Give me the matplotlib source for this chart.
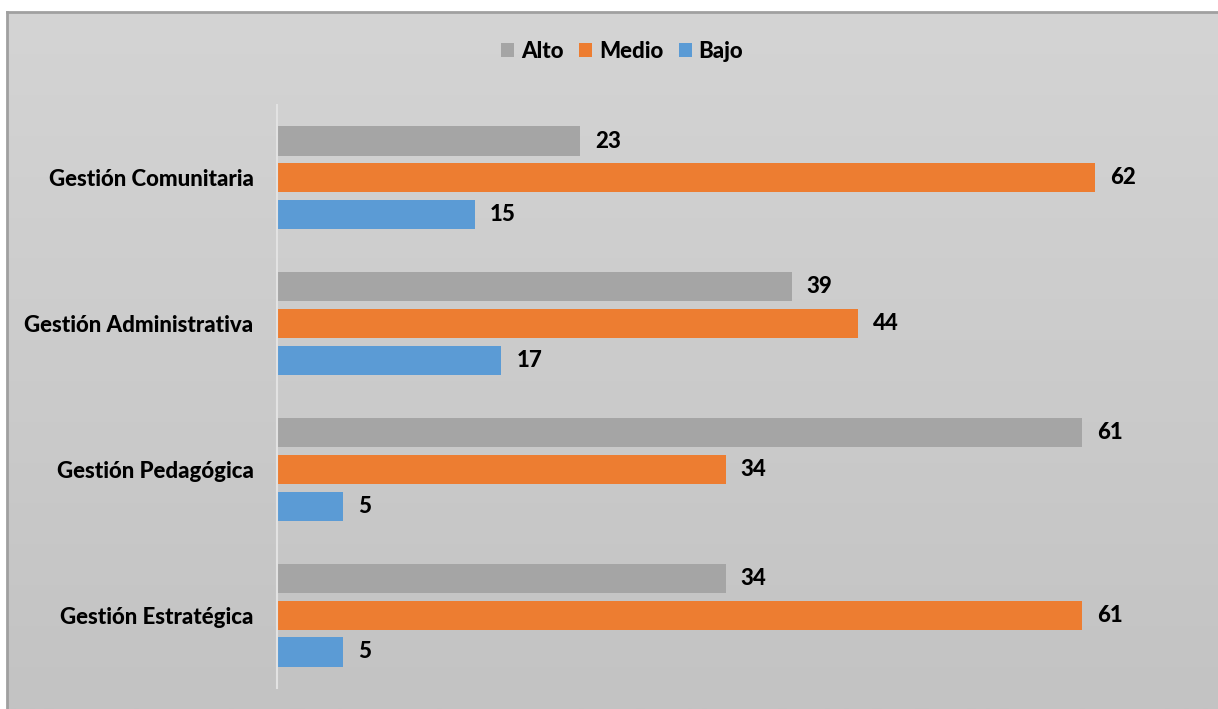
"""Bar chart: niveles por área de gestión (Alto / Medio / Bajo)."""

import matplotlib
matplotlib.use("Agg")
import matplotlib.pyplot as plt
import numpy as np
from matplotlib.patches import Patch

categories = ["Gestión Comunitaria", "Gestión Administrativa",
              "Gestión Pedagógica", "Gestión Estratégica"]
series_names = ["Alto", "Medio", "Bajo"]
alto = [23, 39, 61, 34]
medio = [62, 44, 34, 61]
bajo = [15, 17, 5, 5]
colors = ["#a5a5a5", "#ed7d31", "#5b9bd5"]

W, H = 1218, 709
FS = 16
WEIGHT = 900
plt.rcParams["font.family"] = ["Lato", "DejaVu Sans"]

fig = plt.figure(figsize=(W / 100, H / 100), dpi=100)
fig.patch.set_facecolor("white")

# gradient background with a thin frame on top/left
bg = fig.add_axes([7 / W, 0, 1 - 7 / W, 1 - 12 / H], zorder=-10)
grad = np.linspace(0, 1, 256).reshape(-1, 1)
bg.imshow(grad, aspect="auto", cmap=matplotlib.colors.LinearSegmentedColormap.from_list(
    "bg", ["#d4d4d4", "#c3c3c3"]), extent=[0, 1, 0, 1], origin="upper")
bg.set_xlim(0, 1)
bg.set_ylim(0, 1)
bg.set_xticks([])
bg.set_yticks([])
for side in ["right", "bottom"]:
    bg.spines[side].set_visible(False)
for side in ["top", "left"]:
    bg.spines[side].set_color("#a0a0a0")
    bg.spines[side].set_linewidth(2)

px_per_unit = 818 / 62
ax_left, ax_right = 277, 1195
ax_top, ax_bottom = 105, 688
ax = fig.add_axes([ax_left / W, 1 - ax_bottom / H,
                   (ax_right - ax_left) / W, (ax_bottom - ax_top) / H])
ax.set_facecolor("none")
ax.set_xlim(0, (ax_right - ax_left) / px_per_unit)
ax.set_ylim(3.5, -0.5)

y = np.arange(len(categories))
bar_h = 0.2
step = 0.253
for k, (vals, color) in enumerate(zip([alto, medio, bajo], colors)):
    pos = y + (k - 1) * step
    ax.barh(pos, vals, height=bar_h, color=color)
    for p, v in zip(pos, vals):
        ax.annotate(str(v), (v, p), xytext=(15, 0), textcoords="offset pixels",
                    ha="left", va="center", fontsize=FS, fontweight=WEIGHT,
                    color="black")

ax.set_yticks(y, categories, fontsize=FS, fontweight=WEIGHT)
ax.tick_params(axis="y", length=0, pad=17)
ax.set_xticks([])
for side in ["top", "right", "bottom"]:
    ax.spines[side].set_visible(False)
ax.spines["left"].set_color("#e2e2e2")
ax.spines["left"].set_linewidth(1.5)

handles = [Patch(facecolor=c, label=n) for c, n in zip(colors, series_names)]
fig.legend(handles=handles, loc="center", bbox_to_anchor=(622 / W, 1 - 51 / H),
           ncol=3, frameon=False, handlelength=0.6, handleheight=0.6,
           handletextpad=0.3, columnspacing=0.7,
           prop={"size": FS, "weight": WEIGHT})

fig.savefig("out.png", dpi=100)
